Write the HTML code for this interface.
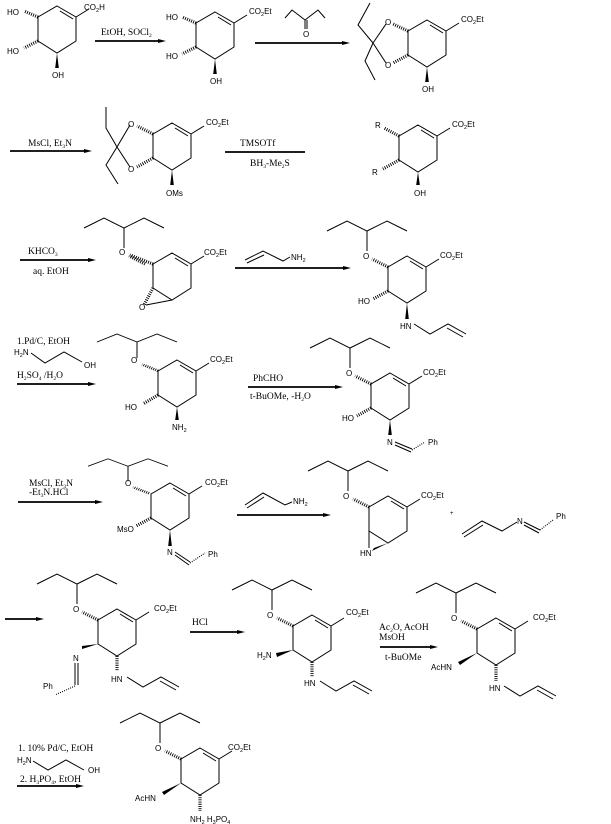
<!DOCTYPE html>
<html><head><meta charset="utf-8">
<style>
html,body{margin:0;padding:0;background:#fff;}
svg{display:block;}
.b{stroke:#000;stroke-width:1;fill:none;}
.h{stroke:#000;stroke-width:3.2;stroke-dasharray:0.9 1.3;fill:none;}
.ar{stroke:#000;stroke-width:1.8;fill:none;}
.a{font-family:"Liberation Sans",sans-serif;font-size:8px;fill:#000;}
.r{font-family:"Liberation Serif",serif;font-size:9.5px;fill:#000;}
.s{font-size:5.5px;}
</style></head><body>
<svg width="611" height="824" viewBox="0 0 611 824" xmlns="http://www.w3.org/2000/svg">
<defs>
 <g id="ring">
  <polygon class="b" points="0,0 19,11 19,35 0,47 -19,35 -19,11"/>
  <line class="b" x1="3" y1="5" x2="16" y2="13"/>
  <line class="b" x1="19" y1="11" x2="32" y2="3"/>
 </g>
 <g id="pent">
  <line class="h" x1="-19" y1="11" x2="-35" y2="3"/>
  <polyline class="b" points="-40,-5 -40,-25 -60,-35 -80,-25"/>
  <polyline class="b" points="-40,-25 -20,-35 0,-25"/>
 </g>
 <g id="allyl">
  <polyline class="b" points="4,-2 20,8 38,-2 56,8"/>
  <line class="b" x1="37" y1="2" x2="53" y2="11"/>
 </g>
 <g id="arr"><polygon points="0,-2 8,0 0,2" fill="#000"/></g>
</defs>

<!-- Row 1 -->
<g transform="translate(57,6)">
 <use href="#ring"/>
 <text class="a" x="27" y="4">CO<tspan class="s" dy="2">2</tspan><tspan dy="-2">H</tspan></text>
 <line class="h" x1="-19" y1="11" x2="-33" y2="5"/>
 <text class="a" x="-50" y="9">HO</text>
 <line class="h" x1="-19" y1="35" x2="-33" y2="42"/>
 <text class="a" x="-50" y="48">HO</text>
 <polygon points="0,47 -1.8,62 1.8,62" fill="#000"/>
 <text class="a" x="-5" y="72">OH</text>
</g>
<line class="ar" x1="95" y1="41" x2="158" y2="41"/><use href="#arr" x="158" y="41"/>
<text class="r" x="101" y="35">EtOH, SOCl<tspan class="s" dy="2">2</tspan></text>

<g transform="translate(215,12)">
 <use href="#ring"/>
 <text class="a" x="34" y="2">CO<tspan class="s" dy="2">2</tspan><tspan dy="-2">Et</tspan></text>
 <line class="h" x1="-19" y1="11" x2="-33" y2="5"/>
 <text class="a" x="-49" y="8">HO</text>
 <line class="h" x1="-19" y1="35" x2="-33" y2="42"/>
 <text class="a" x="-49" y="47">HO</text>
 <polygon points="0,47 -1.8,62 1.8,62" fill="#000"/>
 <text class="a" x="-5" y="72">OH</text>
</g>
<line class="ar" x1="255" y1="43" x2="342" y2="43"/><use href="#arr" x="342" y="43"/>
<polyline class="b" points="285,18 292,10 305,20 318,10 325,18"/>
<line class="b" x1="305" y1="20" x2="305" y2="29"/><line class="b" x1="307" y1="20" x2="307" y2="29"/>
<text class="a" x="303" y="37">O</text>

<g transform="translate(427,20)">
 <use href="#ring"/>
 <text class="a" x="34" y="2">CO<tspan class="s" dy="2">2</tspan><tspan dy="-2">Et</tspan></text>
 <polygon points="0,47 -1.8,62 1.8,62" fill="#000"/>
 <text class="a" x="-5" y="72">OH</text>
</g>
<line class="h" x1="408" y1="31" x2="393" y2="24"/>
<line class="h" x1="408" y1="55" x2="393" y2="63"/>
<text class="a" x="385" y="25">O</text><text class="a" x="385" y="68">O</text>
<polyline class="b" points="386,24 373,43 386,63"/>
<polyline class="b" points="373,43 358,25 370,3"/>
<polyline class="b" points="373,43 365,61 375,80"/>

<!-- Row 2 -->
<line class="ar" x1="10" y1="151" x2="84" y2="151"/><use href="#arr" x="84" y="151"/>
<text class="r" x="28" y="146">MsCl, Et<tspan class="s" dy="2">3</tspan><tspan dy="-2">N</tspan></text>
<g transform="translate(172,123)">
 <use href="#ring"/>
 <text class="a" x="34" y="2">CO<tspan class="s" dy="2">2</tspan><tspan dy="-2">Et</tspan></text>
 <polygon points="0,47 -1.8,62 1.8,62" fill="#000"/>
 <text class="a" x="-6" y="73">OMs</text>
</g>
<line class="h" x1="153" y1="134" x2="137" y2="126"/>
<line class="h" x1="153" y1="158" x2="137" y2="167"/>
<text class="a" x="128" y="127">O</text><text class="a" x="128" y="172">O</text>
<polyline class="b" points="130,125 117,147 130,167"/>
<polyline class="b" points="117,147 106,128 106,107"/>
<polyline class="b" points="117,147 106,165 118,184"/>
<line class="ar" x1="225" y1="152" x2="305" y2="152"/>
<text class="r" x="240" y="146">TMSOTf</text>
<text class="r" x="250" y="166">BH<tspan class="s" dy="2">3</tspan><tspan dy="-2">-Me</tspan><tspan class="s" dy="2">2</tspan><tspan dy="-2">S</tspan></text>

<g transform="translate(418,125)">
 <use href="#ring"/>
 <text class="a" x="34" y="2">CO<tspan class="s" dy="2">2</tspan><tspan dy="-2">Et</tspan></text>
 <line class="h" x1="-19" y1="11" x2="-34" y2="3"/>
 <text class="a" x="-43" y="3">R</text>
 <line class="h" x1="-19" y1="35" x2="-35" y2="44"/>
 <text class="a" x="-46" y="50">R</text>
 <polygon points="0,47 -1.8,60 1.8,60" fill="#000"/>
 <text class="a" x="-4" y="71">OH</text>
</g>

<!-- Row 3 -->
<line class="ar" x1="20" y1="260" x2="88" y2="260"/><use href="#arr" x="88" y="260"/>
<text class="r" x="28" y="254">KHCO<tspan class="s" dy="2">3</tspan></text>
<text class="r" x="33" y="274">aq. EtOH</text>
<g transform="translate(172,253)">
 <use href="#ring"/>
 <text class="a" x="32" y="2">CO<tspan class="s" dy="2">2</tspan><tspan dy="-2">Et</tspan></text>
 <g transform="translate(-8,0)"><use href="#pent"/></g>
 <line class="h" x1="-19" y1="11" x2="-42" y2="2"/>
 <text class="a" x="-53" y="2">O</text>
 <line class="h" x1="-19" y1="35" x2="-28" y2="52"/>
 <line class="b" x1="-26" y1="52" x2="0" y2="47"/>
 <text class="a" x="-33" y="57">O</text>
</g>
<line class="ar" x1="235" y1="268" x2="343" y2="268"/><use href="#arr" x="343" y="268"/>
<polyline class="b" points="245,260 263,251 283,261 290,257"/>
<line class="b" x1="247" y1="263" x2="264" y2="255"/>
<text class="a" x="291" y="260">NH<tspan class="s" dy="2">2</tspan></text>

<g transform="translate(407,256)">
 <use href="#ring"/>
 <text class="a" x="33" y="2">CO<tspan class="s" dy="2">2</tspan><tspan dy="-2">Et</tspan></text>
 <use href="#pent"/>
 <text class="a" x="-44" y="3">O</text>
 <line class="h" x1="-19" y1="35" x2="-34" y2="43"/>
 <text class="a" x="-49" y="48">HO</text>
 <polygon points="0,47 -1.8,63 1.8,63" fill="#000"/>
 <text class="a" x="-7" y="73">HN</text>
 <use href="#allyl" x="3" y="70"/>
</g>

<!-- Row 4 -->
<text class="r" x="17" y="344">1.Pd/C, EtOH</text>
<text class="a" x="14" y="355">H<tspan class="s" dy="2">2</tspan><tspan dy="-2">N</tspan></text>
<polyline class="b" points="31,353 45,363 64,352 82,362"/>
<text class="a" x="84" y="368">OH</text>
<text class="r" x="17" y="378">H<tspan class="s" dy="2">2</tspan><tspan dy="-2">SO</tspan><tspan class="s" dy="2">4</tspan><tspan dy="-2"> /H</tspan><tspan class="s" dy="2">2</tspan><tspan dy="-2">O</tspan></text>
<line class="ar" x1="17" y1="384" x2="88" y2="384"/><use href="#arr" x="88" y="384"/>
<g transform="translate(177,360)">
 <use href="#ring"/>
 <text class="a" x="33" y="2">CO<tspan class="s" dy="2">2</tspan><tspan dy="-2">Et</tspan></text>
 <g transform="translate(0,2) scale(1,0.8)"><use href="#pent"/></g>
 <text class="a" x="-46" y="3">O</text>
 <line class="h" x1="-19" y1="35" x2="-34" y2="44"/>
 <text class="a" x="-52" y="50">HO</text>
 <polygon points="0,47 -1.8,60 1.8,60" fill="#000"/>
 <text class="a" x="-5" y="70">NH<tspan class="s" dy="2">2</tspan></text>
</g>
<line class="ar" x1="248" y1="387" x2="335" y2="387"/><use href="#arr" x="335" y="387"/>
<text class="r" x="253" y="381">PhCHO</text>
<text class="r" x="250" y="399">t-BuOMe, -H<tspan class="s" dy="2">2</tspan><tspan dy="-2">O</tspan></text>
<g transform="translate(390,373)">
 <use href="#ring"/>
 <text class="a" x="33" y="2">CO<tspan class="s" dy="2">2</tspan><tspan dy="-2">Et</tspan></text>
 <use href="#pent"/>
 <text class="a" x="-44" y="3">O</text>
 <line class="h" x1="-19" y1="35" x2="-33" y2="43"/>
 <text class="a" x="-48" y="48">HO</text>
 <polygon points="0,47 -1.8,62 1.8,62" fill="#000"/>
 <text class="a" x="-3" y="72">N</text>
 <line class="b" x1="5" y1="69" x2="22" y2="76"/><line class="b" x1="5" y1="72" x2="21" y2="79"/>
 <line class="h" x1="22" y1="77" x2="35" y2="69" style="stroke-width:1.2"/>
 <text class="a" x="38" y="72">Ph</text>
</g>

<!-- Row 5 -->
<text class="r" x="29" y="486">MsCl, Et<tspan class="s" dy="2">3</tspan><tspan dy="-2">N</tspan></text>
<text class="r" x="29" y="495">-Et<tspan class="s" dy="2">3</tspan><tspan dy="-2">N.HCl</tspan></text>
<line class="ar" x1="18" y1="502" x2="95" y2="502"/><use href="#arr" x="95" y="502"/>
<g transform="translate(170,483)">
 <use href="#ring"/>
 <text class="a" x="35" y="2">CO<tspan class="s" dy="2">2</tspan><tspan dy="-2">Et</tspan></text>
 <g transform="translate(-2,2) scale(1,0.75)"><use href="#pent"/></g>
 <text class="a" x="-45" y="3">O</text>
 <line class="h" x1="-19" y1="35" x2="-34" y2="43"/>
 <text class="a" x="-53" y="49">MsO</text>
 <polygon points="0,47 -1.8,63 1.8,63" fill="#000"/>
 <text class="a" x="-3" y="72">N</text>
 <line class="b" x1="5" y1="69" x2="20" y2="79"/><line class="b" x1="5" y1="72" x2="19" y2="82"/>
 <line class="h" x1="20" y1="80" x2="35" y2="70" style="stroke-width:1.2"/>
 <text class="a" x="38" y="74">Ph</text>
</g>
<line class="ar" x1="237" y1="515" x2="323" y2="515"/><use href="#arr" x="323" y="515"/>
<polyline class="b" points="245,505 263,493 285,505 292,502"/>
<line class="b" x1="247" y1="508" x2="264" y2="497"/>
<text class="a" x="293" y="504">NH<tspan class="s" dy="2">2</tspan></text>

<g transform="translate(388,496)">
 <use href="#ring"/>
 <text class="a" x="33" y="2">CO<tspan class="s" dy="2">2</tspan><tspan dy="-2">Et</tspan></text>
 <use href="#pent"/>
 <text class="a" x="-45" y="3">O</text>
 <line class="b" x1="-19" y1="35" x2="-19" y2="52"/>
 <polygon points="0,47 -16,55 -14,52" fill="#000"/>
 <text class="a" x="-28" y="60">HN</text>
</g>
<text class="a" x="450" y="515" style="font-size:6px">+</text>
<polyline class="b" points="462,534 482,521 502,531 517,522"/>
<line class="b" x1="464" y1="537" x2="483" y2="525"/>
<text class="a" x="517" y="524">N</text>
<line class="b" x1="524" y1="522" x2="540" y2="530"/><line class="b" x1="524" y1="525" x2="539" y2="533"/>
<line class="h" x1="540" y1="530" x2="553" y2="520" style="stroke-width:1.2"/>
<text class="a" x="556" y="519">Ph</text>

<!-- Row 6 -->
<line class="ar" x1="5" y1="619" x2="36" y2="619"/><use href="#arr" x="36" y="619"/>
<g transform="translate(117,609)">
 <use href="#ring"/>
 <text class="a" x="37" y="2">CO<tspan class="s" dy="2">2</tspan><tspan dy="-2">Et</tspan></text>
 <use href="#pent"/>
 <text class="a" x="-44" y="3">O</text>
 <polygon points="-19,35 -35,37 -35,40" fill="#000"/>
 <text class="a" x="-44" y="52">N</text>
 <line class="b" x1="-42" y1="54" x2="-42" y2="76"/><line class="b" x1="-39" y1="54" x2="-39" y2="76"/>
 <line class="h" x1="-42" y1="77" x2="-62" y2="86" style="stroke-width:1.2"/>
 <text class="a" x="-74" y="80">Ph</text>
 <line class="h" x1="0" y1="47" x2="0" y2="62"/>
 <text class="a" x="-6" y="73">HN</text>
 <use href="#allyl" x="6" y="70"/>
</g>
<line class="ar" x1="190" y1="632" x2="237" y2="632"/><use href="#arr" x="237" y="632"/>
<text class="r" x="192" y="625">HCl</text>
<g transform="translate(312,615)">
 <use href="#ring"/>
 <text class="a" x="34" y="0">CO<tspan class="s" dy="2">2</tspan><tspan dy="-2">Et</tspan></text>
 <use href="#pent"/>
 <text class="a" x="-45" y="3">O</text>
 <polygon points="-19,35 -36,38 -35,42" fill="#000"/>
 <text class="a" x="-55" y="43">H<tspan class="s" dy="2">2</tspan><tspan dy="-2">N</tspan></text>
 <line class="h" x1="0" y1="47" x2="0" y2="62"/>
 <text class="a" x="-8" y="71">HN</text>
 <use href="#allyl" x="4" y="68"/>
</g>
<line class="ar" x1="380" y1="647" x2="430" y2="647"/><use href="#arr" x="430" y="647"/>
<text class="r" x="379" y="630">Ac<tspan class="s" dy="2">2</tspan><tspan dy="-2">O, AcOH</tspan></text>
<text class="r" x="379" y="640">MsOH</text>
<text class="r" x="385" y="660">t-BuOMe</text>
<g transform="translate(496,618)">
 <use href="#ring"/>
 <text class="a" x="37" y="2">CO<tspan class="s" dy="2">2</tspan><tspan dy="-2">Et</tspan></text>
 <use href="#pent"/>
 <text class="a" x="-45" y="3">O</text>
 <polygon points="-19,35 -38,44 -36,47" fill="#000"/>
 <text class="a" x="-65" y="52">AcHN</text>
 <line class="h" x1="0" y1="47" x2="0" y2="63"/>
 <text class="a" x="-7" y="73">HN</text>
 <use href="#allyl" x="4" y="70"/>
</g>

<!-- Row 7 -->
<text class="r" x="18" y="751">1. 10% Pd/C, EtOH</text>
<text class="a" x="17" y="763">H<tspan class="s" dy="2">2</tspan><tspan dy="-2">N</tspan></text>
<polyline class="b" points="33,761 48,770 66,760 84,770"/>
<text class="a" x="88" y="773">OH</text>
<text class="r" x="20" y="782">2. H<tspan class="s" dy="2">3</tspan><tspan dy="-2">PO</tspan><tspan class="s" dy="2">4</tspan><tspan dy="-2">, EtOH</tspan></text>
<line class="ar" x1="17" y1="786" x2="76" y2="786"/><use href="#arr" x="76" y="786"/>
<g transform="translate(200,748)">
 <use href="#ring"/>
 <text class="a" x="28" y="2">CO<tspan class="s" dy="2">2</tspan><tspan dy="-2">Et</tspan></text>
 <use href="#pent"/>
 <text class="a" x="-45" y="3">O</text>
 <polygon points="-19,35 -38,44 -36,47" fill="#000"/>
 <text class="a" x="-65" y="53">AcHN</text>
 <line class="h" x1="0" y1="47" x2="0" y2="63"/>
 <text class="a" x="-10" y="74">NH<tspan class="s" dy="2">2</tspan><tspan dy="-2"> H</tspan><tspan class="s" dy="2">3</tspan><tspan dy="-2">PO</tspan><tspan class="s" dy="2">4</tspan></text>
</g>
</svg>
</body></html>
